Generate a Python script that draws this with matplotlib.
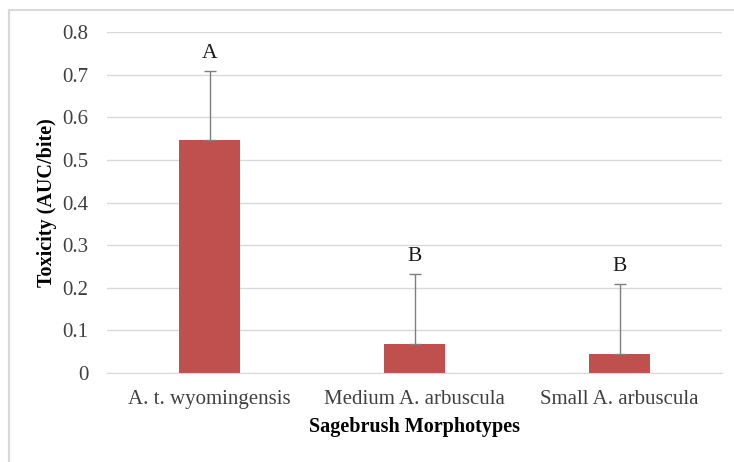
import matplotlib.pyplot as plt
from matplotlib.lines import Line2D

# data
categories = ["A. t. wyomingensis", "Medium A. arbuscula", "Small A. arbuscula"]
toxicity = [0.547, 0.068, 0.045]
err_upper = [0.161, 0.164, 0.163]
letters = ["A", "B", "B"]

plt.rcParams["font.family"] = ["Liberation Serif", "DejaVu Serif"]

fig = plt.figure(figsize=(7.34, 4.62), dpi=100)
ax = fig.add_axes([0.1458, 0.1926, 0.8379, 0.7381])

x = range(len(categories))
ax.bar(x, toxicity, width=0.30, color="#C0504D", zorder=2)
ax.errorbar(x, toxicity, yerr=[[0] * len(x), err_upper], fmt="none",
            ecolor="#7F7F7F", elinewidth=1, capsize=4, capthick=1, zorder=3)

for i, (v, e, lab) in enumerate(zip(toxicity, err_upper, letters)):
    ax.annotate(lab, (i, v + e), xytext=(0, 6), textcoords="offset points",
                ha="center", va="bottom", fontsize=15.5, color="#1a1a1a")

ax.set_xlim(-0.5, 2.5)
ax.set_ylim(0, 0.8)
ax.set_yticks([0, 0.1, 0.2, 0.3, 0.4, 0.5, 0.6, 0.7, 0.8])
ax.set_yticklabels(["0", "0.1", "0.2", "0.3", "0.4", "0.5", "0.6", "0.7", "0.8"])
ax.set_xticks(list(x))
ax.set_xticklabels(categories)
ax.tick_params(axis="both", length=0, labelsize=15, colors="#404040")
ax.tick_params(axis="y", pad=13.5)
ax.tick_params(axis="x", pad=12)

ax.grid(axis="y", color="#D9D9D9", linewidth=1, zorder=0)
ax.set_axisbelow(True)
for side in ["top", "right", "left"]:
    ax.spines[side].set_visible(False)
ax.spines["bottom"].set_color("#D9D9D9")

ax.set_ylabel("Toxicity (AUC/bite)", fontsize=14.5, fontweight="bold", labelpad=3.5)
ax.set_xlabel("Sagebrush Morphotypes", fontsize=14.5, fontweight="bold", labelpad=6)

# chart area border (top and left visible)
fig.add_artist(Line2D([8.5 / 734, 1.0], [1 - 9.5 / 462, 1 - 9.5 / 462],
                      transform=fig.transFigure, color="#D9D9D9", linewidth=1.5))
fig.add_artist(Line2D([8.5 / 734, 8.5 / 734], [0, 1 - 9.5 / 462],
                      transform=fig.transFigure, color="#D9D9D9", linewidth=1.5))

fig.savefig("out.png", dpi=100, facecolor="white")
